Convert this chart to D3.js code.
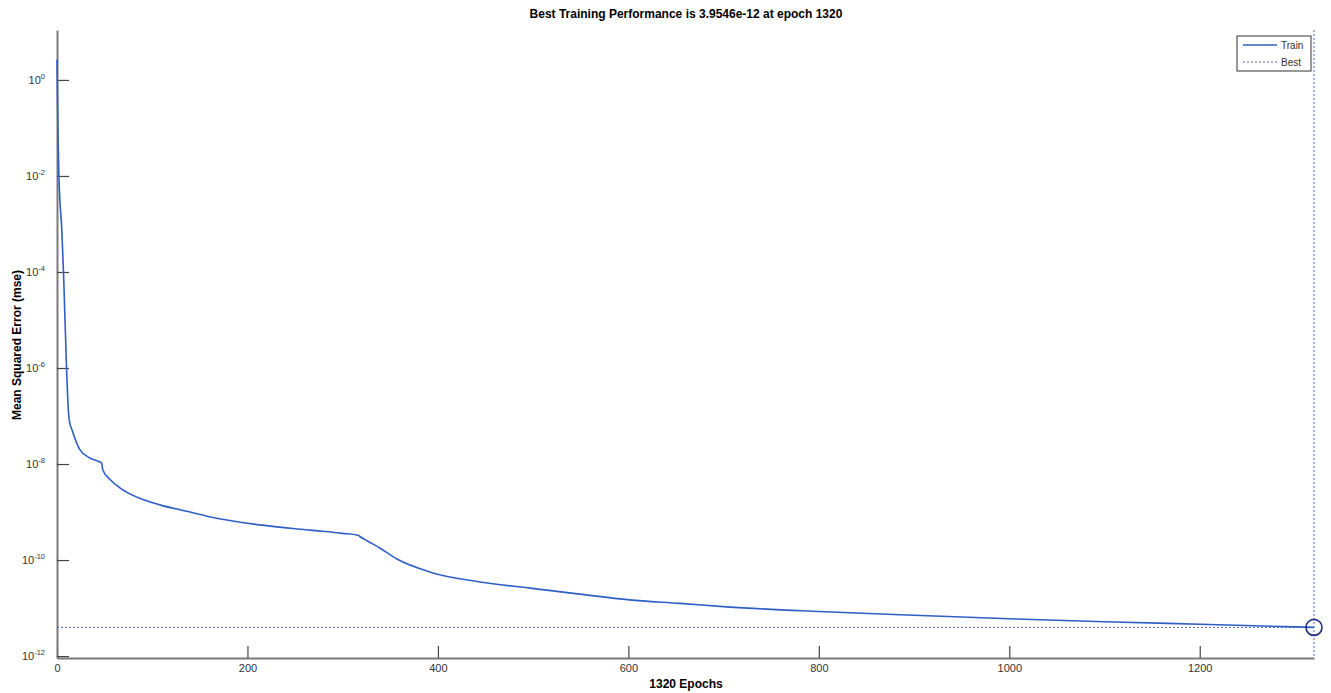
<!DOCTYPE html>
<html>
<head>
<meta charset="utf-8">
<script src="https://cdn.jsdelivr.net/npm/d3@7"></script>
<style>
  body { margin: 0; background: #fff; }
  text { font-family: "Liberation Sans", Arial, sans-serif; }
</style>
</head>
<body>
<figure id="chart" style="margin:0"></figure>
<script>
// training record
const epochs = [0, 1, 2, 3, 5, 7, 10, 12, 13, 16, 24, 35, 47, 48, 56, 66, 85, 108, 135, 161, 213, 266, 300, 316,
  318, 326, 339, 357, 392, 444, 497, 549, 601, 654, 703, 800, 900, 1000, 1100, 1200, 1320];
const trainMse = [2.63, 0.079, 0.01, 3.2e-3, 7.9e-4, 7.9e-5, 1e-6, 1.26e-7, 7.9e-8, 5e-8, 2e-8, 1.32e-8, 1.05e-8,
  7.6e-9, 4.7e-9, 3.2e-9, 2e-9, 1.41e-9, 1.05e-9, 7.9e-10, 5.4e-10, 4.2e-10, 3.6e-10, 3.3e-10,
  3.1e-10, 2.5e-10, 1.78e-10, 1.05e-10, 5.6e-11, 3.5e-11, 2.6e-11, 1.95e-11, 1.48e-11, 1.25e-11, 1.06e-11,
  8.5e-12, 7.1e-12, 6.0e-12, 5.2e-12, 4.6e-12, 3.9546e-12];
const bestEpoch = 1320;
const bestMse = 3.9546e-12;
const xTicks = [0, 200, 400, 600, 800, 1000, 1200];
const yTickExps = [0, -2, -4, -6, -8, -10, -12];
const legendLabels = ["Train", "Best"];

const width = 1331, height = 693;
const svg = d3.select("#chart").append("svg")
  .attr("width", width).attr("height", height);

const x = d3.scaleLinear().domain([0, 1320]).range([57, 1314]);
const y = d3.scaleLog().domain([Math.pow(10, -12.04), Math.pow(10, 1.04)]).range([658, 30]);

// title
svg.append("text")
  .attr("x", 686).attr("y", 18)
  .attr("text-anchor", "middle")
  .style("font-size", "12px").style("font-weight", "bold")
  .text(`Best Training Performance is ${bestMse} at epoch ${bestEpoch}`);

// x axis
const xAxis = svg.append("g")
  .attr("transform", `translate(0,658)`)
  .call(d3.axisBottom(x).tickValues(xTicks).tickFormat(d3.format("d"))
    .tickSize(-12).tickPadding(6).tickSizeOuter(0));
xAxis.select(".domain").attr("stroke", "#7a7a7a").attr("stroke-width", 2);
xAxis.selectAll(".tick line").attr("stroke", "#444").attr("stroke-width", 1.2);
xAxis.selectAll(".tick text")
  .attr("y", 6).attr("dy", "0.71em")
  .style("font-size", "11px").style("font-family", "Liberation Sans, Arial, sans-serif")
  .attr("fill", "#333");

// y axis, labels drawn by hand for superscripts
const yAxis = svg.append("g")
  .attr("transform", `translate(57,0)`)
  .call(d3.axisLeft(y).tickValues(yTickExps.map(e => Math.pow(10, e)))
    .tickSize(-12).tickFormat("").tickSizeOuter(0));
yAxis.select(".domain").attr("stroke", "#7a7a7a").attr("stroke-width", 2);
yAxis.selectAll(".tick line").attr("stroke", "#444").attr("stroke-width", 1.2);

const yl = svg.append("g");
yTickExps.forEach(e => {
  const t = yl.append("text")
    .attr("x", 45).attr("y", y(Math.pow(10, e)) + 4)
    .attr("text-anchor", "end")
    .attr("fill", "#333")
    .style("font-size", "11px");
  t.append("tspan").text("10");
  t.append("tspan").attr("dy", -5).style("font-size", "7.5px").text(e === 0 ? "0" : e);
});

// axis titles
svg.append("text")
  .attr("x", 686).attr("y", 688)
  .attr("text-anchor", "middle")
  .style("font-size", "12px").style("font-weight", "bold")
  .text(`${bestEpoch} Epochs`);
svg.append("text")
  .attr("transform", "translate(21,345) rotate(-90)")
  .attr("text-anchor", "middle")
  .style("font-size", "12px").style("font-weight", "bold")
  .text("Mean Squared Error  (mse)");

// best markers
svg.append("line")
  .attr("x1", x(0)).attr("x2", x(bestEpoch))
  .attr("y1", y(bestMse)).attr("y2", y(bestMse))
  .attr("stroke", "#5a62a8").attr("stroke-width", 1)
  .attr("stroke-dasharray", "2,2");
svg.append("line")
  .attr("x1", x(bestEpoch)).attr("x2", x(bestEpoch))
  .attr("y1", 30).attr("y2", 658)
  .attr("stroke", "#5a62a8").attr("stroke-width", 1)
  .attr("stroke-dasharray", "2,2");

// train curve
const line = d3.line()
  .x((d, i) => x(epochs[i]))
  .y(d => y(d))
  .curve(d3.curveMonotoneX);
svg.append("path")
  .datum(trainMse)
  .attr("d", line)
  .attr("fill", "none")
  .attr("stroke", "#2f5fc4")
  .attr("stroke-width", 1.6);

svg.append("circle")
  .attr("cx", x(bestEpoch)).attr("cy", y(bestMse))
  .attr("r", 8)
  .attr("fill", "none")
  .attr("stroke", "#1c2a80")
  .attr("stroke-width", 1.6);

// legend
const lg = svg.append("g").attr("transform", "translate(1237,36)");
lg.append("rect")
  .attr("width", 74).attr("height", 35)
  .attr("fill", "#fff").attr("stroke", "#333").attr("stroke-width", 1);
lg.append("line").attr("x1", 6).attr("x2", 40).attr("y1", 9).attr("y2", 9)
  .attr("stroke", "#2f5fc4").attr("stroke-width", 1.6);
lg.append("line").attr("x1", 6).attr("x2", 40).attr("y1", 26).attr("y2", 26)
  .attr("stroke", "#5a62a8").attr("stroke-width", 1).attr("stroke-dasharray", "2,2");
legendLabels.forEach((lab, i) => {
  lg.append("text")
    .attr("x", 44).attr("y", 13 + i * 17)
    .attr("fill", "#333")
    .style("font-size", "10px")
    .text(lab);
});
</script>
</body>
</html>
